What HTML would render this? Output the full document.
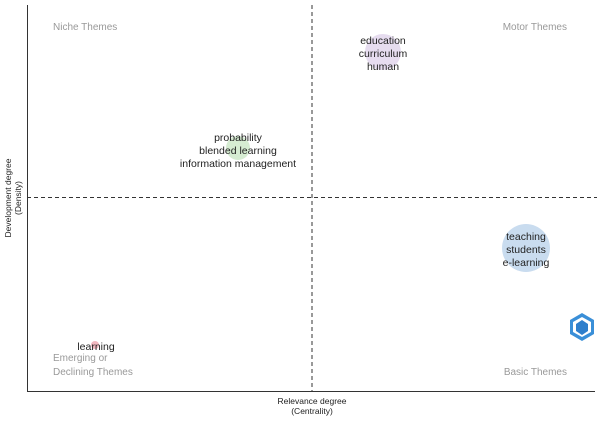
<!DOCTYPE html>
<html><head><style>body{margin:0;background:#fff}</style></head><body>
<svg width="600" height="420" xmlns="http://www.w3.org/2000/svg" font-family="Liberation Sans, Arial, sans-serif">
<rect width="600" height="420" fill="#fff"/>
<circle cx="383" cy="52" r="18" fill="#e6dcef"/>
<circle cx="238" cy="148" r="12" fill="#d6ecd2"/>
<circle cx="526" cy="248" r="24" fill="#c9dcef"/>
<circle cx="95" cy="345" r="4" fill="#f2b8c0"/>
<line x1="27.5" y1="5" x2="27.5" y2="392" stroke="#333" stroke-width="1"/>
<line x1="27" y1="391.5" x2="595" y2="391.5" stroke="#333" stroke-width="1"/>
<line x1="312" y1="5" x2="312" y2="391" stroke="#333" stroke-dasharray="4,3"/>
<line x1="27" y1="197.5" x2="597" y2="197.5" stroke="#333" stroke-dasharray="4,3"/>
<g font-size="10" fill="#999">
<text x="53" y="30">Niche Themes</text>
<text x="567" y="30" text-anchor="end">Motor Themes</text>
<text x="53" y="361">Emerging or</text>
<text x="53" y="375">Declining Themes</text>
<text x="567" y="375" text-anchor="end">Basic Themes</text>
</g>
<g font-size="10.5" fill="#222" text-anchor="middle">
<text x="383" y="44">education</text>
<text x="383" y="57">curriculum</text>
<text x="383" y="70">human</text>
<text x="238" y="141">probability</text>
<text x="238" y="154">blended learning</text>
<text x="238" y="167">information management</text>
<text x="526" y="240">teaching</text>
<text x="526" y="253">students</text>
<text x="526" y="266">e-learning</text>
<text x="96" y="350">learning</text>
</g>
<g font-size="8.5" fill="#222" text-anchor="middle">
<text x="312" y="404">Relevance degree</text>
<text x="312" y="414">(Centrality)</text>
<text transform="translate(11,198) rotate(-90)">Development degree</text>
<text transform="translate(21,198) rotate(-90)">(Density)</text>
</g>
<g transform="translate(582,327)">
<polygon points="0,-14 12,-7 12,7 0,14 -12,7 -12,-7" fill="#3a8fd8"/>
<polygon points="0,-10 9,-5 9,5 0,10 -9,5 -9,-5" fill="#fff"/>
<polygon points="0,-7 6,-3 6,4 0,8 -6,4 -6,-3" fill="#2f7fcc"/>
</g>
</svg>
</body></html>
